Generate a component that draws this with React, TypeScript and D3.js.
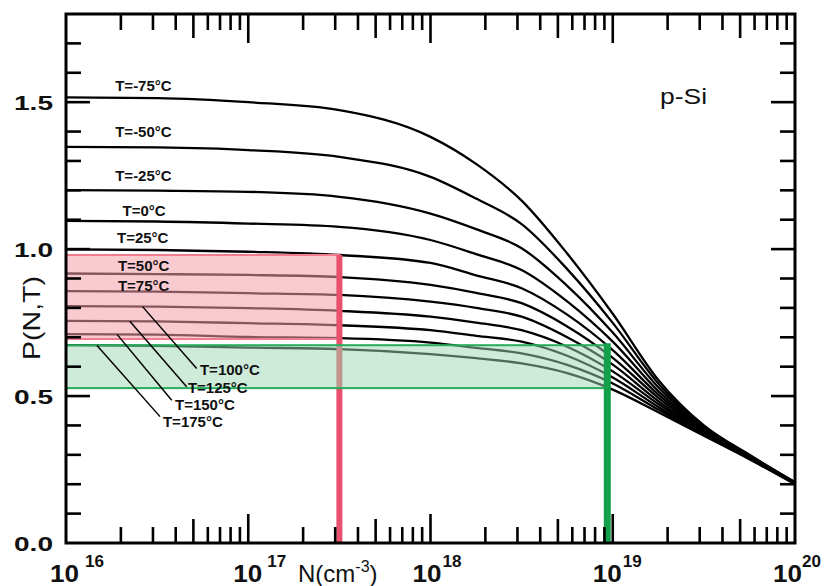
import React from "react";
import * as d3 from "d3";

// log10(N) sample points
const nExp = [16, 16.5, 17, 17.5, 18, 18.25, 18.5, 18.75, 19, 19.25, 19.5, 19.75, 20];

const temps = [-75, -50, -25, 0, 25, 50, 75, 100, 125, 150, 175];

const pM75 = [1.516, 1.514, 1.5, 1.473, 1.382, 1.29, 1.165, 0.985, 0.78, 0.555, 0.4, 0.3, 0.207];
const pM50 = [1.348, 1.346, 1.337, 1.314, 1.246, 1.172, 1.085, 0.932, 0.749, 0.543, 0.396, 0.298, 0.206];
const pM25 = [1.201, 1.199, 1.195, 1.178, 1.121, 1.068, 1.003, 0.875, 0.716, 0.53, 0.392, 0.297, 0.206];
const p0 = [1.096, 1.094, 1.087, 1.076, 1.031, 0.983, 0.929, 0.822, 0.685, 0.517, 0.388, 0.295, 0.205];
const p25 = [0.999, 0.997, 0.991, 0.98, 0.953, 0.911, 0.867, 0.777, 0.656, 0.505, 0.384, 0.294, 0.205];
const p50 = [0.917, 0.915, 0.912, 0.905, 0.878, 0.851, 0.816, 0.737, 0.63, 0.494, 0.38, 0.292, 0.204];
const p75 = [0.857, 0.855, 0.85, 0.844, 0.821, 0.8, 0.77, 0.7, 0.607, 0.483, 0.377, 0.291, 0.203];
const p100 = [0.806, 0.804, 0.799, 0.79, 0.77, 0.75, 0.724, 0.668, 0.584, 0.473, 0.374, 0.29, 0.203];
const p125 = [0.756, 0.754, 0.748, 0.741, 0.724, 0.705, 0.685, 0.637, 0.563, 0.463, 0.371, 0.288, 0.202];
const p150 = [0.711, 0.709, 0.701, 0.697, 0.682, 0.664, 0.645, 0.606, 0.543, 0.454, 0.368, 0.287, 0.201];
const p175 = [0.673, 0.671, 0.665, 0.66, 0.643, 0.629, 0.611, 0.578, 0.522, 0.445, 0.365, 0.285, 0.2];

// label anchors (log10 N, P) for each curve
const labelExp = [16.27, 16.27, 16.27, 16.31, 16.28, 16.285, 16.285, 16.735, 16.669, 16.598, 16.532];
const labelP = [1.537, 1.381, 1.231, 1.112, 1.02, 0.925, 0.857, 0.571, 0.51, 0.452, 0.395];

// leader lines for the hot curves: start on curve, end near label
const leaderTemps = [100, 125, 150, 175];
const leaderFrom = [16.42, 16.35, 16.28, 16.17];
const leaderToExp = [16.717, 16.662, 16.58, 16.516];
const leaderToP = [0.594, 0.532, 0.486, 0.43];

// highlighted ranges
const pinkN = 10 ** 17.5;
const pinkRange = [0.694, 0.98];
const greenN = 10 ** 18.97;
const greenRange = [0.527, 0.673];

const yLabels = [0, 0.5, 1.0, 1.5];
const xDecades = [16, 17, 18, 19, 20];
// horizontal placement of "10" and exponent relative to each decade tick
const tenOffset = [-16, -15, -18, -20, -22];
const supOffset = [19, 19, 12, 10, 7];

const series = [pM75, pM50, pM25, p0, p25, p50, p75, p100, p125, p150, p175];

const W = 824;
const H = 586;
const font = "'Liberation Sans', Arial, sans-serif";

export default function App() {
  const x = d3.scaleLog().domain([1e16, 1e20]).range([66, 795]);
  const y = d3.scaleLinear().domain([0, 1.8]).range([543, 14]);

  const line = d3
    .line<number>()
    .x((d, i) => x(10 ** nExp[i]))
    .y((d) => y(d))
    .curve(d3.curveMonotoneX);

  const xTicks = x.ticks().filter((t) => t > 1e16 * 1.01 && t < 1e20 * 0.99);
  const yTicks = y.ticks(18).filter((t) => t > 0.01 && t < 1.79);

  const xTickLen = (t: number) => {
    const m = Math.round(t / 10 ** Math.floor(Math.log10(t) + 1e-9));
    if (m === 1) return 29;
    if (m === 5) return 24;
    return 16;
  };
  const isMajorY = (t: number) => Math.abs(t * 2 - Math.round(t * 2)) < 1e-6;

  const x0 = x.range()[0], x1 = x.range()[1];
  const y0 = y.range()[0], y1 = y.range()[1];

  return (
    <div style={{ position: "fixed", left: 0, top: 0 }}>
      <svg width={W} height={H} style={{ display: "block", background: "#fff" }}>
        {/* curves */}
        {series.map((s, i) => (
          <path key={temps[i]} d={line(s) || ""} fill="none" stroke="#000" strokeWidth={2.3} />
        ))}

        {/* pink range */}
        <rect
          x={x0}
          y={y(pinkRange[1])}
          width={x(pinkN) - x0}
          height={y(pinkRange[0]) - y(pinkRange[1])}
          fill="#f4a0ac"
          fillOpacity={0.55}
          stroke="#f07c8e"
          strokeWidth={2}
        />
        <line x1={x(pinkN)} x2={x(pinkN)} y1={y(pinkRange[1])} y2={y0} stroke="#e8506e" strokeWidth={6} />

        {/* green range */}
        <rect
          x={x0}
          y={y(greenRange[1])}
          width={x(greenN) - x0}
          height={y(greenRange[0]) - y(greenRange[1])}
          fill="#9bd8b2"
          fillOpacity={0.5}
          stroke="#23ad5a"
          strokeWidth={2}
        />
        <line x1={x(greenN)} x2={x(greenN)} y1={y(greenRange[1]) - 2} y2={y0} stroke="#12a04a" strokeWidth={7} />

        {/* leader lines */}
        {leaderTemps.map((t, k) => {
          const s = series[temps.indexOf(t)];
          const interp = d3.scaleLinear().domain(nExp).range(s);
          const e = leaderFrom[k];
          return (
            <line
              key={t}
              x1={x(10 ** e)}
              y1={y(interp(e))}
              x2={x(10 ** leaderToExp[k])}
              y2={y(leaderToP[k])}
              stroke="#000"
              strokeWidth={1.5}
            />
          );
        })}

        {/* curve labels */}
        {temps.map((t, i) => (
          <text
            key={t}
            x={x(10 ** labelExp[i])}
            y={y(labelP[i])}
            fontFamily={font}
            fontWeight="bold"
            fontSize={15}
            fill="#111"
          >
            {`T=${t}°C`}
          </text>
        ))}

        {/* ticks */}
        {xTicks.map((t) => (
          <g key={"xt" + t} stroke="#000" strokeWidth={2.6}>
            <line x1={x(t)} x2={x(t)} y1={y0} y2={y0 - xTickLen(t)} />
            <line x1={x(t)} x2={x(t)} y1={y1} y2={y1 + xTickLen(t)} />
          </g>
        ))}
        {yTicks.map((t) => (
          <g key={"yt" + t} stroke="#000" strokeWidth={2.6}>
            <line x1={x0} x2={x0 + (isMajorY(t) ? 24 : 15)} y1={y(t)} y2={y(t)} />
            <line x1={x1} x2={x1 - (isMajorY(t) ? 24 : 15)} y1={y(t)} y2={y(t)} />
          </g>
        ))}

        {/* frame */}
        <rect x={x0} y={y1} width={x1 - x0} height={y0 - y1} fill="none" stroke="#000" strokeWidth={3} />

        {/* y tick labels */}
        {yLabels.map((v) => (
          <text
            key={"yl" + v}
            x={53}
            y={y(v) + 8}
            textAnchor="end"
            fontFamily={font}
            fontWeight="bold"
            fontSize={21}
            textLength={39}
            lengthAdjust="spacingAndGlyphs"
            fill="#111"
          >
            {v.toFixed(1)}
          </text>
        ))}

        {/* x tick labels */}
        {xDecades.map((e, i) => (
          <g key={"xl" + e} fontFamily={font} fontWeight="bold" fill="#111">
            <text
              x={x(10 ** e) + tenOffset[i]}
              y={582}
              fontSize={24}
              textLength={29}
              lengthAdjust="spacingAndGlyphs"
            >
              10
            </text>
            <text
              x={x(10 ** e) + supOffset[i]}
              y={567}
              fontSize={17}
              textLength={19}
              lengthAdjust="spacingAndGlyphs"
            >
              {e}
            </text>
          </g>
        ))}

        {/* axis titles */}
        <text x={298} y={582} fontFamily={font} fontSize={24} fill="#111">
          N(cm
          <tspan fontSize={16} dy={-10}>-3</tspan>
          <tspan dy={10}>)</tspan>
        </text>
        <text
          transform="translate(40,318) rotate(-90)"
          textAnchor="middle"
          fontFamily={font}
          fontSize={24}
          textLength={84}
          lengthAdjust="spacingAndGlyphs"
          fill="#111"
        >
          P(N,T)
        </text>
        <text x={660} y={104} fontFamily={font} fontSize={22} textLength={47} lengthAdjust="spacingAndGlyphs" fill="#111">
          p-Si
        </text>
      </svg>
    </div>
  );
}
